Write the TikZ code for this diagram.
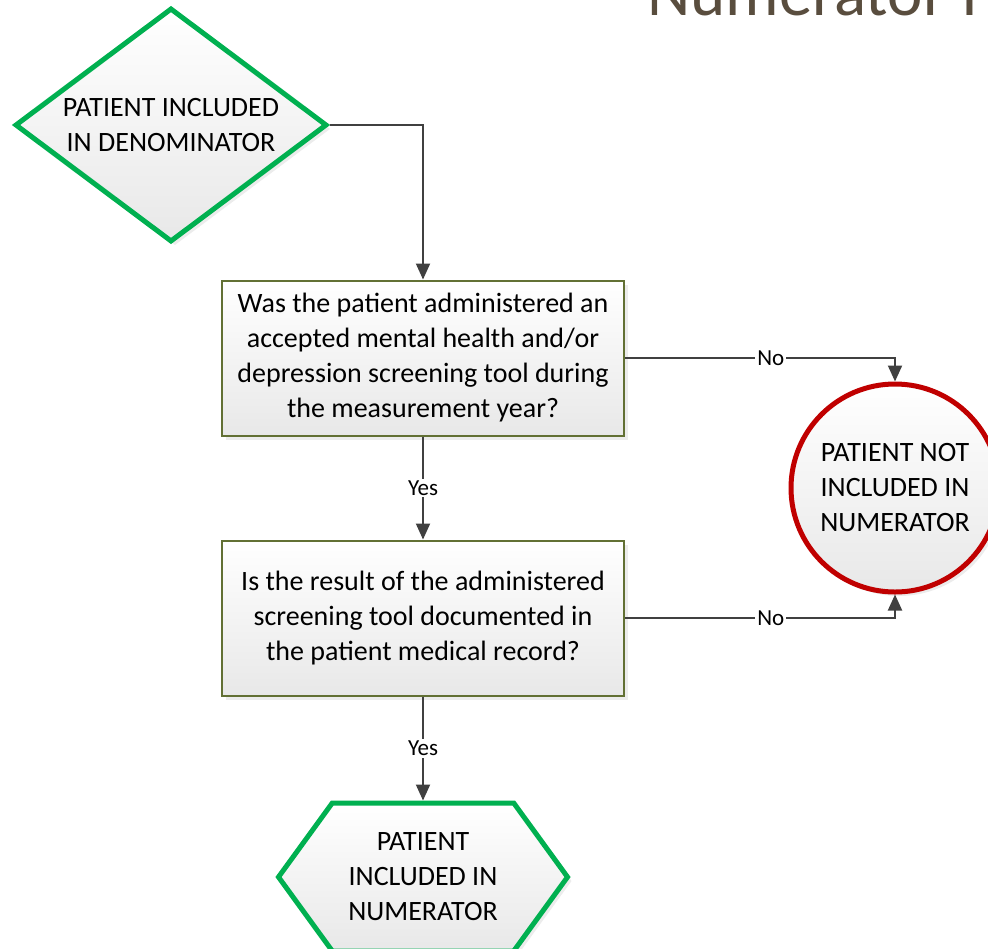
\documentclass[tikz,border=0pt]{standalone}
\usepackage{fontspec}
\setmainfont{Carlito}
\usepackage{tikz}
\usetikzlibrary{positioning,arrows.meta,shapes.geometric,shapes.symbols,shadows}
\definecolor{flowgreen}{RGB}{0,176,80}
\definecolor{flowred}{RGB}{192,0,0}
\definecolor{flowolive}{RGB}{98,112,52}
\definecolor{flowline}{RGB}{64,64,64}
\definecolor{titlebrown}{RGB}{89,77,62}
\tikzset{
  shaded/.style={top color=white, bottom color=black!9, drop shadow={opacity=0.15, shadow xshift=2pt, shadow yshift=-2pt}},
  txt/.style={font=\fontsize{14}{17.5}\selectfont, align=center},
  startdiamond/.style={diamond, draw=flowgreen, line width=2.5pt, shaded, txt, inner sep=0pt, aspect=1.34, minimum width=156pt, minimum height=117pt},
  question/.style={rectangle, draw=flowolive, line width=1pt, shaded, txt, minimum width=201pt, minimum height=77.5pt},
  stopcircle/.style={circle, draw=flowred, line width=2.5pt, shaded, txt, minimum size=104pt},
  endhex/.style={signal, signal to=east and west, signal pointer angle=108, draw=flowgreen, line width=2.5pt, shaded, txt, minimum width=144.5pt, minimum height=74pt, inner sep=0pt},
  flow/.style={-{Triangle[width=7pt,length=8pt]}, draw=flowline, line width=1pt},
  answer/.style={fill=white, inner sep=1pt, font=\fontsize{11.5}{13}\selectfont},
}

\begin{document}
\begin{tikzpicture}[x=0.5pt, y=-0.5pt]
  \clip (0,0) rectangle (988,948);
  \node[anchor=base west, text=titlebrown, font=\fontsize{33.5}{40}\selectfont] (title) at (640,15) {Numerator I};

  \node[startdiamond] (denom) at (171,125) {PATIENT INCLUDED\\IN DENOMINATOR};
  \node[question] (screened) at (423,358) {Was the patient administered an\\accepted mental health and/or\\depression screening tool during\\the measurement year?};
  \node[question] (documented) [below=51.5pt of screened] {Is the result of the administered\\screening tool documented in\\the patient medical record?};
  \node[endhex] (incl) [below=52pt of documented] {PATIENT\\INCLUDED IN\\NUMERATOR};
  \node[stopcircle] (notincl) at (895,488) {PATIENT NOT\\INCLUDED IN\\NUMERATOR};

  \draw[flow] (denom.east) -| (screened.north);
  \draw[flow] (screened.south) -- (documented.north) node[midway, answer] {Yes};
  \draw[flow] (documented.south) -- (incl.north) node[midway, answer] {Yes};
  \draw[flow] (screened.east) -| (notincl.north) node[pos=0.27, answer] {No};
  \draw[flow] (documented.east) -| (notincl.south) node[pos=0.27, answer] {No};
\end{tikzpicture}
\end{document}
